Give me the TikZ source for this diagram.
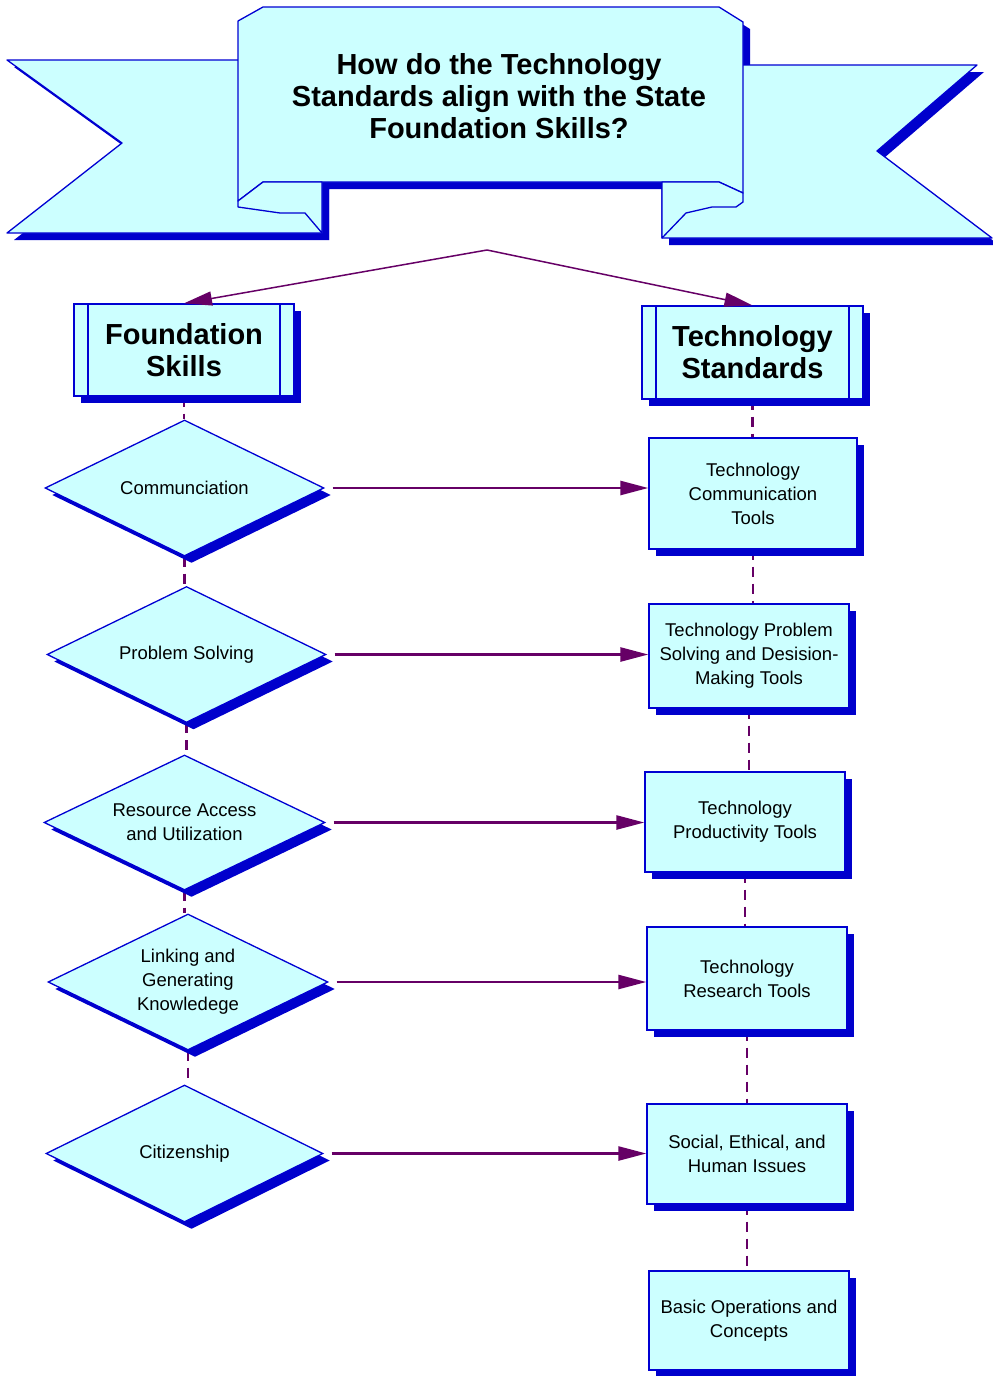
\documentclass[tikz,border=0pt]{standalone}
\usepackage{fontspec}
\setmainfont{Liberation Sans}
\usetikzlibrary{shapes.geometric,arrows.meta,shadows,backgrounds}
\definecolor{fillc}{RGB}{204,255,255}
\definecolor{linec}{RGB}{0,0,210}
\definecolor{shadc}{RGB}{0,0,204}
\definecolor{purp}{RGB}{102,0,102}
\tikzset{
  myshadow/.style={drop shadow={shadow xshift=7pt,shadow yshift=-7pt,fill=shadc,opacity=1}},
  smallfont/.style={font=\fontsize{18.5}{24}\selectfont},
  dia/.style={diamond, aspect=2.06, draw=linec, fill=fillc, line width=1.3pt, inner sep=0pt,
    align=center, smallfont, myshadow},
  tbox/.style={rectangle, draw=linec, fill=fillc, line width=1.3pt, inner sep=0pt,
    align=center, smallfont, myshadow},
  hdr/.style={tbox, font=\fontsize{29}{32}\selectfont\bfseries,
    path picture={\draw[linec,line width=1.3pt]
      ([xshift=14pt]path picture bounding box.north west) -- ([xshift=14pt]path picture bounding box.south west)
      ([xshift=-14pt]path picture bounding box.north east) -- ([xshift=-14pt]path picture bounding box.south east);}},
  banner/.style={fill=fillc, draw=linec, line width=1.3pt, line join=round},
  flow/.style={purp, line width=2.5pt, -{Triangle[length=28pt,width=14pt]}},
  flowthin/.style={purp, line width=1.5pt, -{Triangle[length=28pt,width=14pt]}},
  link/.style={purp, line width=2.5pt, dash pattern=on 10pt off 7pt},
}
\begin{document}
\begin{tikzpicture}[x=1pt,y=-1pt]
\useasboundingbox (0,0) rectangle (993,1376);

% ---- banner shadow ----
\begin{scope}[shift={(7,7)}]
  \fill[shadc] (7,60) -- (322,60) -- (322,233) -- (7,233) -- (122,143) -- cycle;
  \fill[shadc] (662,65) -- (977,65) -- (877,151) -- (992,238) -- (662,238) -- cycle;
  \fill[shadc] (238,21) -- (263,7) -- (719,7) -- (743,22) -- (743,202) -- (736,207) -- (712,207)
     -- (686,213) -- (662,238) -- (662,182) -- (322,182) -- (322,233) -- (305,213) -- (280,213)
     -- (238,207) -- cycle;
\end{scope}
% ---- banner ----
\filldraw[banner] (7,60) -- (322,60) -- (322,233) -- (7,233) -- (122,143) -- cycle;
\filldraw[banner] (662,65) -- (977,65) -- (877,151) -- (992,238) -- (662,238) -- cycle;
\filldraw[banner] (238,21) -- (263,7) -- (719,7) -- (743,22) -- (743,193) -- (719,182)
   -- (263,182) -- (238,201) -- cycle;
\filldraw[banner] (263,182) -- (238,201) -- (238,207) -- (280,213) -- (305,213) -- (322,233)
   -- (322,182) -- cycle;
\filldraw[banner] (719,182) -- (743,193) -- (743,202) -- (736,207) -- (712,207) -- (686,213)
   -- (662,238) -- (662,182) -- cycle;
\node[font=\fontsize{29}{32}\selectfont\bfseries, align=center] (title) at (499,96)
  {How do the Technology\\Standards align with the State\\Foundation Skills?};

% ---- headers ----
\node[hdr, minimum width=220pt, minimum height=92pt] (FS) at (184,350) {Foundation\\Skills};
\node[hdr, minimum width=221pt, minimum height=93pt] (TS) at (752.5,352.5) {Technology\\Standards};

% ---- diamonds ----
\node[dia, minimum width=279pt, minimum height=136pt] (D1) at (184.5,488) {Communciation};
\node[dia, minimum width=279pt, minimum height=136pt] (D2) at (186.5,654.5) {Problem Solving};
\node[dia, minimum width=281pt, minimum height=135pt] (D3) at (184.5,822.5) {Resource Access\\and Utilization};
\node[dia, minimum width=280pt, minimum height=136pt] (D4) at (188,982) {Linking and\\Generating\\Knowledege};
\node[dia, minimum width=277pt, minimum height=137pt] (D5) at (184.5,1153.5) {Citizenship};

% ---- boxes ----
\node[tbox, minimum width=208pt, minimum height=111pt] (B1) at (753,493.5) {Technology\\Communication\\Tools};
\node[tbox, minimum width=200pt, minimum height=104pt] (B2) at (749,656) {Technology Problem\\Solving and Desision-\\Making Tools};
\node[tbox, minimum width=200pt, minimum height=100pt] (B3) at (745,822) {Technology\\Productivity Tools};
\node[tbox, minimum width=200pt, minimum height=103pt] (B4) at (747,978.5) {Technology\\Research Tools};
\node[tbox, minimum width=200pt, minimum height=100pt] (B5) at (747,1154) {Social, Ethical, and\\Human Issues};
\node[tbox, minimum width=200pt, minimum height=99pt] (B6) at (749,1320.5) {Basic Operations and\\Concepts};

\coordinate (apex) at (487,250);

% ---- connectors ----
\begin{scope}[on background layer]
  \draw[link] (FS.south) -- (FS.south |- D1.north);
  \draw[link] (D1.south) -- (D1.south |- D2.north);
  \draw[link] (D2.south) -- (D2.south |- D3.north);
  \draw[link] (D3.south) -- (D3.south |- D4.north);
  \draw[link] (D4.south) -- (D4.south |- D5.north);
  \draw[link] (TS.south) -- (TS.south |- B1.north);
  \draw[link] (B1.south) -- (B1.south |- B2.north);
  \draw[link] (B2.south) -- (B2.south |- B3.north);
  \draw[link] (B3.south) -- (B3.south |- B4.north);
  \draw[link] (B4.south) -- (B4.south |- B5.north);
  \draw[link] (B5.south) -- (B5.south |- B6.north);
\end{scope}

\draw[flowthin] (apex) -- (FS.north);
\draw[flowthin] (apex) -- (TS.north);

\draw[flow] ([xshift=8pt]D1.east) -- (D1.east -| B1.west);
\draw[flow] ([xshift=8pt]D2.east) -- (D2.east -| B2.west);
\draw[flow] ([xshift=8pt]D3.east) -- (D3.east -| B3.west);
\draw[flow] ([xshift=8pt]D4.east) -- (D4.east -| B4.west);
\draw[flow] ([xshift=8pt]D5.east) -- (D5.east -| B5.west);
\end{tikzpicture}
\end{document}
